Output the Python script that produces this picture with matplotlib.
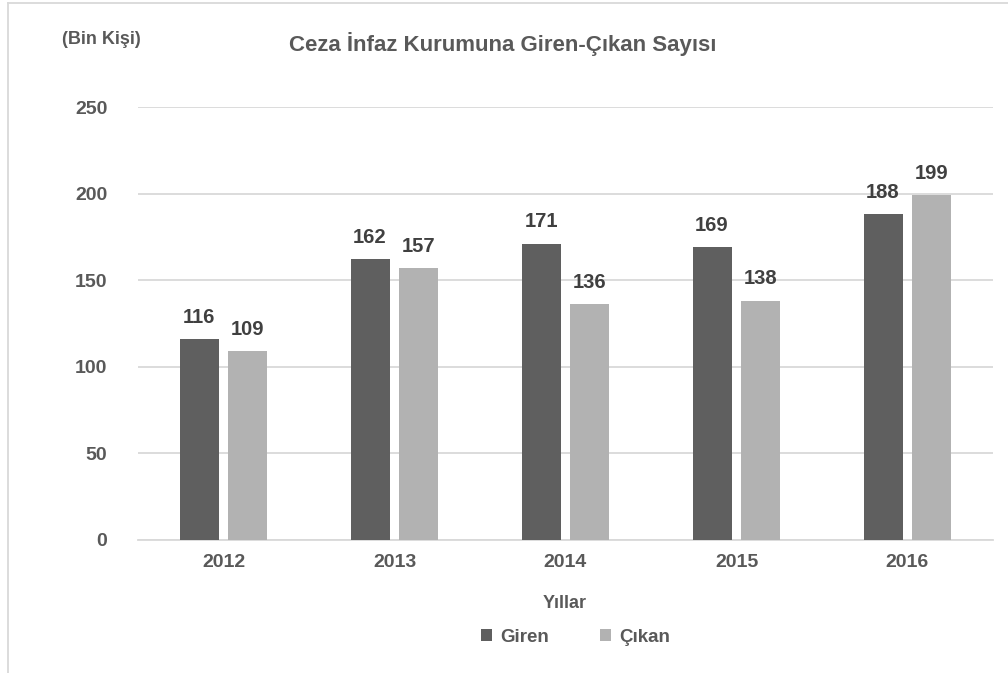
import matplotlib
matplotlib.use("Agg")
import matplotlib.pyplot as plt
from matplotlib.lines import Line2D
import numpy as np

years = ["2012", "2013", "2014", "2015", "2016"]
giren = [116, 162, 171, 169, 188]
cikan = [109, 157, 136, 138, 199]
yticks = [0, 50, 100, 150, 200, 250]

plt.rcParams['font.family'] = ['Liberation Sans', 'DejaVu Sans']
plt.rcParams['font.weight'] = 'bold'

C_GIREN = "#5f5f5f"
C_CIKAN = "#b2b2b2"
TXT = "#595959"
LBL = "#404040"
GRID = "#d9d9d9"

fig = plt.figure(figsize=(10.08, 6.73), dpi=100)
ax = fig.add_axes([138/1008, 133/673, 855/1008, 433/673])

x = np.arange(len(years))
w = 0.228
off = 0.143
b1 = ax.bar(x - off, giren, w, color=C_GIREN, label="Giren", zorder=3)
b2 = ax.bar(x + off, cikan, w, color=C_CIKAN, label="Çıkan", zorder=3)

for bars in (b1, b2):
    for r in bars:
        ax.annotate(f"{int(r.get_height())}", (r.get_x() + r.get_width()/2, r.get_height()),
                    xytext=(0, 9), textcoords="offset points", ha="center", va="bottom",
                    fontsize=14.5, fontweight="bold", color=LBL)

ax.set_xlim(-0.5, len(years) - 0.5)
ax.set_ylim(0, 250)
ax.set_yticks(yticks)
ax.set_xticks(x)
ax.set_xticklabels(years)
ax.yaxis.grid(True, color=GRID, linewidth=1.3, zorder=0)
ax.set_axisbelow(True)
for s in ["top", "right", "left"]:
    ax.spines[s].set_visible(False)
ax.spines["bottom"].set_color(GRID)
ax.spines["bottom"].set_linewidth(1.3)
ax.tick_params(axis="both", length=0, labelsize=14, labelcolor=TXT)
ax.tick_params(axis="y", pad=22)
ax.tick_params(axis="x", pad=10)
for t in ax.get_xticklabels() + ax.get_yticklabels():
    t.set_fontweight("bold")

fig.text(503/1008, 1 - 44/673, "Ceza İnfaz Kurumuna Giren-Çıkan Sayısı", ha="center", va="center",
         fontsize=16, fontweight="bold", color=TXT)
fig.text(101/1008, 1 - 40/673, "(Bin Kişi)", ha="center", va="center",
         fontsize=13, fontweight="bold", color=TXT)
fig.text(565/1008, 1 - 603/673, "Yıllar", ha="center", va="center",
         fontsize=13, fontweight="bold", color=TXT)

leg = fig.legend(handles=[b1, b2], labels=["Giren", "Çıkan"], loc="center",
                 bbox_to_anchor=(575.5/1008, 1 - 637/673), ncol=2, frameon=False,
                 prop={"size": 13.5, "weight": "bold"}, handlelength=0.6, handleheight=0.6,
                 handletextpad=0.4, columnspacing=2.75)
for t in leg.get_texts():
    t.set_color(TXT)

fig.add_artist(Line2D([8/1008, 8/1008], [0, 1 - 3/673], transform=fig.transFigure, color=GRID, lw=1.3))
fig.add_artist(Line2D([8/1008, 1], [1 - 3/673, 1 - 3/673], transform=fig.transFigure, color=GRID, lw=1.3))

fig.savefig("out.png", dpi=100)
